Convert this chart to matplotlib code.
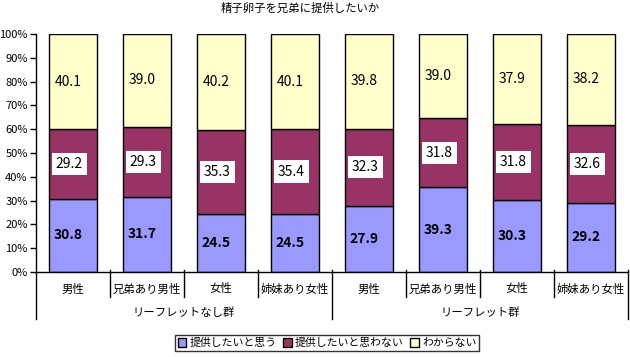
import matplotlib
matplotlib.use("Agg")
import matplotlib.pyplot as plt
import numpy as np
from matplotlib.patches import Patch

plt.rcParams['font.family'] = ['Noto Sans CJK JP', 'DejaVu Sans']

title = "精子卵子を兄弟に提供したいか"
categories = ["男性", "兄弟あり男性", "女性", "姉妹あり女性", "男性", "兄弟あり男性", "女性", "姉妹あり女性"]
groups = ["リーフレットなし群", "リーフレット群"]
series_names = ["提供したいと思う", "提供したいと思わない", "わからない"]
want = [30.8, 31.7, 24.5, 24.5, 27.9, 39.3, 30.3, 29.2]
not_want = [29.2, 29.3, 35.3, 35.4, 32.3, 31.8, 31.8, 32.6]
unknown = [40.1, 39.0, 40.2, 40.1, 39.8, 39.0, 37.9, 38.2]
colors = ["#9999FF", "#993366", "#FFFFCC"]

W, H = 630, 357
fig = plt.figure(figsize=(W / 100, H / 100), dpi=100)
ax = fig.add_axes([36 / W, (H - 272) / H, (628 - 36) / W, (272 - 34) / H])

raw = np.array([want, not_want, unknown])
pct = raw / raw.sum(axis=0) * 100
x = np.arange(len(categories)) + 0.5
bottom = np.zeros(len(categories))
for k in range(3):
    ax.bar(x, pct[k], width=0.66, bottom=bottom, color=colors[k],
           edgecolor="black", linewidth=1, zorder=2)
    for i in range(len(categories)):
        yc = bottom[i] + pct[k][i] / 2
        txt = f"{raw[k][i]:.1f}"
        if k == 0:
            ax.text(x[i] - 0.07, yc, txt, ha="center", va="center", fontsize=10,
                    fontweight="bold", zorder=3)
        elif k == 1:
            ax.text(x[i] - 0.05, yc, txt, ha="center", va="center", fontsize=10,
                    zorder=3, bbox=dict(boxstyle="square,pad=0.3", fc="white", ec="none"))
        else:
            ax.text(x[i] - 0.07, yc, txt, ha="center", va="center", fontsize=10, zorder=3)
    bottom += pct[k]

ax.set_xlim(0, len(categories))
ax.set_ylim(0, 100)
ax.set_yticks(np.arange(0, 101, 10))
ax.set_yticklabels([f"{v}%" for v in range(0, 101, 10)], fontsize=8)
ax.tick_params(axis="y", direction="out", length=4, width=1, pad=2)
ax.set_xticks([])
for s in ["top", "right"]:
    ax.spines[s].set_visible(False)
ax.spines["left"].set_linewidth(1)
ax.spines["bottom"].set_linewidth(1)

tr = ax.get_xaxis_transform()
# left axis extension
ax.plot([0, 0], [0, -0.1975], transform=tr, color="black", lw=1, clip_on=False)
for b in range(1, len(categories) + 1):
    if b % 4 == 0:
        ax.plot([b, b], [0.0084, -0.1975], transform=tr, color="black", lw=1, clip_on=False)
    else:
        ax.plot([b, b], [0.0084, -0.105], transform=tr, color="black", lw=1, clip_on=False)
for i, c in enumerate(categories):
    ax.text(x[i], -0.0714, c, transform=tr, ha="center", va="center", fontsize=8.2)
for g, name in enumerate(groups):
    ax.text(g * 4 + 2, -0.172, name, transform=tr, ha="center", va="center", fontsize=8.2)

fig.text(300 / W, 1 - 8 / H, title, ha="center", va="center", fontsize=8.2)

handles = [Patch(facecolor=colors[k], edgecolor="black", linewidth=1) for k in range(3)]
leg = fig.legend(handles, series_names, loc="center", bbox_to_anchor=(327 / W, 1 - 343 / H),
                 ncol=3, fontsize=7.8, frameon=True, fancybox=False, edgecolor="black",
                 handlelength=0.8, handleheight=0.8, handletextpad=0.3, columnspacing=0.6,
                 borderpad=0.25, borderaxespad=0)
leg.get_frame().set_linewidth(1)

fig.savefig("out.png", dpi=100)
